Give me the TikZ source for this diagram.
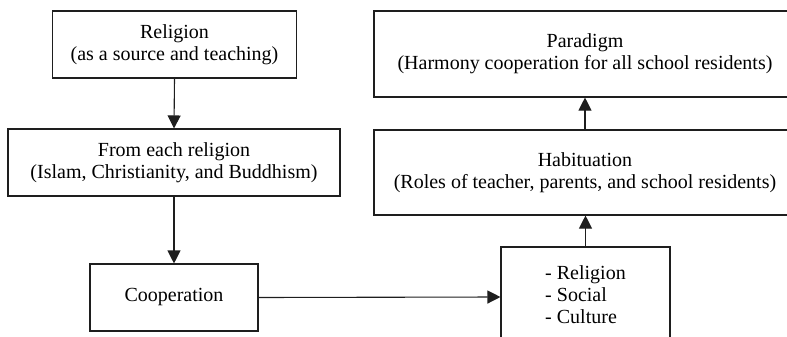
\documentclass[tikz,border=0pt]{standalone}
\usepackage{fontspec}
\setmainfont{Liberation Serif}
\usepackage{xcolor}
\usepackage{tikz}
\usetikzlibrary{positioning, arrows.meta}
\definecolor{boxline}{HTML}{1E1E1E}

\tikzset{
  stagebox/.style={draw=boxline, line width=1.1pt, inner sep=0pt, align=center,
    font=\fontsize{20}{22}\selectfont},
  flowarrow/.style={draw=boxline, line width=1.1pt, -{Triangle[length=13pt, width=13pt]}}
}

\begin{document}
\begin{tikzpicture}[x=1pt, y=-1pt]
    \path[use as bounding box, clip] (0,0) rectangle (787,337);

    % left column
    \node[stagebox, minimum width=244pt, minimum height=67pt] (source) at (174.5,44.5)
      {Religion\\(as a source and teaching)};
    \node[stagebox, minimum width=332pt, minimum height=67pt] (each) at (174,162.5)
      {From each religion\\(Islam, Christianity, and Buddhism)};
    \node[stagebox, minimum width=168pt, minimum height=67pt] (coop) at (174,297.5)
      {Cooperation};

    % right column
    \node[stagebox, minimum width=169pt, minimum height=100pt] (aspects) at (585.5,297)
      {\begin{tabular}{@{}l@{}}- Religion\\- Social\\- Culture\end{tabular}};
    \node[stagebox, minimum width=422pt, minimum height=85pt] (habit) at (585,172.5)
      {Habituation\\(Roles of teacher, parents, and school residents)};
    \node[stagebox, minimum width=422pt, minimum height=86pt] (paradigm) at (585,54)
      {Paradigm\\(Harmony cooperation for all school residents)};

    \draw[flowarrow] (source.south) -- (each.north);
    \draw[flowarrow] (each.south) -- (coop.north);
    \draw[flowarrow] (coop.east) -- (aspects.west);
    \draw[flowarrow] (aspects.north) -- (aspects.north |- habit.south);
    \draw[flowarrow] (habit.north) -- (paradigm.south);
  \end{tikzpicture}
\end{document}
